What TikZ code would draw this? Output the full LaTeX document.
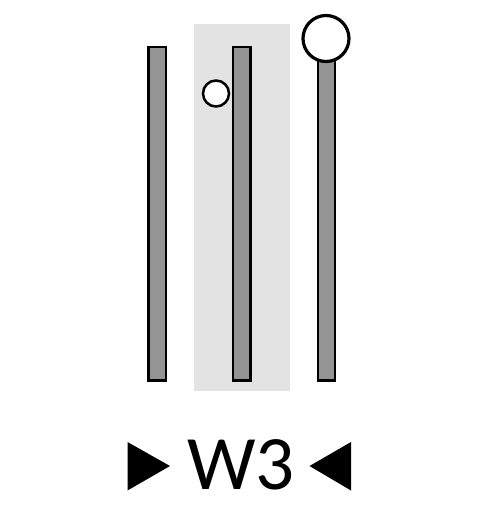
\documentclass[tikz,border=0pt]{standalone}
\usepackage{fontspec}
\setmainfont{Carlito}
\begin{document}
\begin{tikzpicture}[x=1pt,y=-1pt,
  bar/.style={draw=black,fill=black!42,line width=2.5pt},
  ball/.style={circle,draw=black,fill=white,inner sep=0pt},
  tri/.style={fill=black}]
\useasboundingbox (0,0) rectangle (496,512);
\fill[black!11] (193.5,24) rectangle (290,390.5);
\draw[bar] (148.5,47) rectangle (166,380.5);
\draw[bar] (233,47) rectangle (250.5,380.5);
\draw[bar] (318,60) rectangle (335,380.5);
\node[ball,line width=2.5pt,minimum size=26pt] (small) at (216,93.5) {};
\node[ball,line width=3.2pt,minimum size=46pt] (big) at (326,38.5) {};
\node[font=\fontsize{77}{77}\selectfont,inner sep=0pt,anchor=base] (lbl) at (241,489) {W3};
\fill[tri] (127.5,442) -- (170,466) -- (127.5,490.5) -- cycle;
\fill[tri] (351,442) -- (309.5,466) -- (351,490.5) -- cycle;
\end{tikzpicture}
\end{document}
